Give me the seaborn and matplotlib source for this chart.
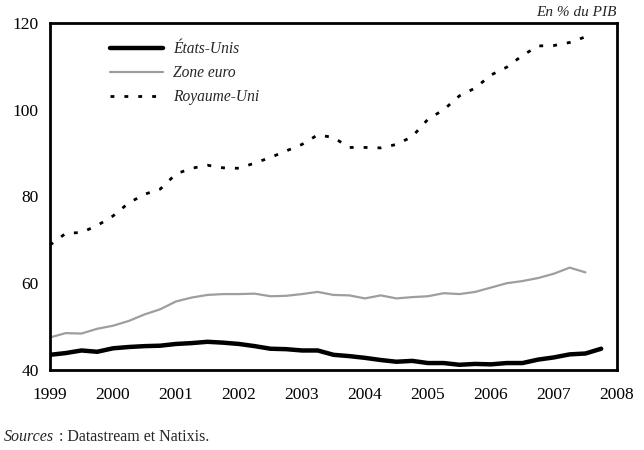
import numpy as np
import pandas as pd
import seaborn as sns
import matplotlib.pyplot as plt
from matplotlib.lines import Line2D

# quarterly values, % of GDP, starting 1999 Q1
etats_unis = [43.5, 43.9, 44.5, 44.2,
              45.0, 45.3, 45.5, 45.6,
              46.0, 46.2, 46.5, 46.3,
              46.0, 45.5, 44.9, 44.8,
              44.5, 44.5, 43.5, 43.2,
              42.8, 42.3, 41.9, 42.1,
              41.6, 41.6, 41.2, 41.4,
              41.3, 41.6, 41.6, 42.4,
              42.9, 43.6, 43.8, 44.9]
zone_euro = [47.5, 48.5, 48.4, 49.5,
             50.2, 51.3, 52.8, 54.0,
             55.8, 56.7, 57.3, 57.5,
             57.5, 57.6, 57.0, 57.1,
             57.5, 58.0, 57.3, 57.2,
             56.5, 57.2, 56.5, 56.8,
             57.0, 57.7, 57.5, 58.0,
             59.0, 60.0, 60.5, 61.2,
             62.2, 63.6, 62.5]
royaume_uni = [68.8, 71.5, 71.7, 73.3,
               75.5, 78.5, 80.5, 81.7,
               85.2, 86.5, 87.2, 86.6,
               86.5, 87.7, 89.0, 90.5,
               92.0, 94.2, 93.6, 91.3,
               91.3, 91.2, 92.0, 93.8,
               97.8, 100.0, 103.2, 105.0,
               108.0, 109.8, 112.5, 114.7,
               114.8, 115.5, 116.8]
years = list(range(1999, 2009))
yticks = [40, 60, 80, 100, 120]


def quarters(values):
    return 1999 + 0.25 * np.arange(len(values))


us_df = pd.DataFrame({'x': quarters(etats_unis), 'y': etats_unis})
eu_df = pd.DataFrame({'x': quarters(zone_euro), 'y': zone_euro})
uk_df = pd.DataFrame({'x': quarters(royaume_uni), 'y': royaume_uni})

sns.set_style('white')
plt.rcParams['font.family'] = ['Liberation Serif', 'DejaVu Serif']

fig = plt.figure(figsize=(6.44, 4.5), dpi=100)
ax = fig.add_axes([0.0776, 0.1778, 0.8804, 0.7712])

dotted = (0, (1.4, 3.6))
sns.lineplot(data=us_df, x='x', y='y', ax=ax, color='black', linewidth=3.2)
sns.lineplot(data=eu_df, x='x', y='y', ax=ax, color='#9e9e9e', linewidth=1.6)
sns.lineplot(data=uk_df, x='x', y='y', ax=ax, color='black', linewidth=2.0,
             dashes=False, linestyle=dotted)

ax.set_xlim(1999, 2008)
ax.set_ylim(40, 120)
ax.set_xticks(years)
ax.set_yticks(yticks)
ax.set_xlabel('')
ax.set_ylabel('')
ax.tick_params(axis='both', direction='in', length=5, width=2, labelsize=12.5,
               colors='black')
ax.tick_params(axis='x', pad=12)
ax.tick_params(axis='y', pad=8)
for s in ax.spines.values():
    s.set_visible(True)
    s.set_linewidth(2)
    s.set_color('black')

handles = [Line2D([], [], color='black', linewidth=3.2),
           Line2D([], [], color='#9e9e9e', linewidth=1.6),
           Line2D([], [], color='black', linewidth=2.0, linestyle=dotted)]
ax.legend(handles, ['États-Unis', 'Zone euro', 'Royaume-Uni'],
          loc='upper left', bbox_to_anchor=(0.082, 0.988), frameon=False,
          handlelength=3.4, labelspacing=0.52, handletextpad=0.6,
          prop={'style': 'italic', 'size': 11.2})

fig.text(0.958, 0.958, 'En % du PIB', ha='right', va='bottom',
         fontsize=11, style='italic')
fig.text(0.006, 0.02, 'Sources', ha='left', va='baseline', fontsize=11.5,
         style='italic')
fig.text(0.0916, 0.02, ': Datastream et Natixis.', ha='left', va='baseline',
         fontsize=11.5)

plt.savefig('out.png', dpi=100)
